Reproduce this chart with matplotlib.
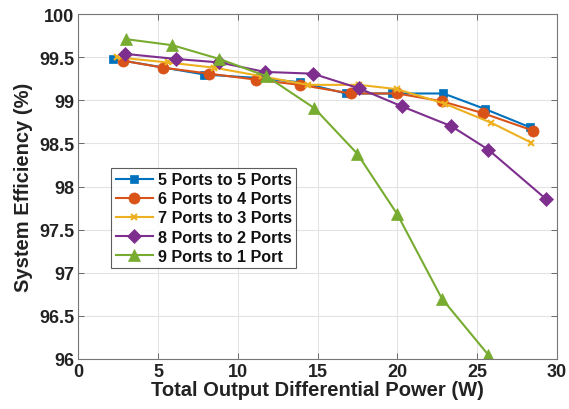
import matplotlib
matplotlib.use("Agg")
import matplotlib.pyplot as plt

# ---- data -------------------------------------------------------------------
labels = ["5 Ports to 5 Ports", "6 Ports to 4 Ports", "7 Ports to 3 Ports",
          "8 Ports to 2 Ports", "9 Ports to 1 Port"]

x_55 = [2.2, 7.9, 11.2, 13.9, 16.8, 19.7, 22.9, 25.5, 28.3]
y_55 = [99.48, 99.30, 99.26, 99.21, 99.08, 99.08, 99.08, 98.90, 98.69]

x_64 = [2.8, 5.3, 8.2, 11.15, 13.9, 17.1, 20.0, 22.8, 25.4, 28.5]
y_64 = [99.46, 99.38, 99.31, 99.24, 99.18, 99.08, 99.08, 98.99, 98.85, 98.65]

x_73 = [2.4, 5.6, 8.5, 11.5, 14.4, 17.6, 20.0, 23.0, 25.9, 28.4]
y_73 = [99.50, 99.44, 99.38, 99.28, 99.18, 99.18, 99.13, 98.96, 98.74, 98.51]

x_82 = [2.9, 6.15, 8.85, 11.7, 14.7, 17.6, 20.3, 23.4, 25.7, 29.3]
y_82 = [99.54, 99.48, 99.44, 99.33, 99.31, 99.14, 98.93, 98.70, 98.43, 97.86]

x_91 = [3.0, 5.9, 8.85, 11.8, 14.8, 17.5, 20.0, 22.8, 25.7]
y_91 = [99.71, 99.64, 99.48, 99.28, 98.91, 98.38, 97.68, 96.70, 96.05]

xs = [x_55, x_64, x_73, x_82, x_91]
ys = [y_55, y_64, y_73, y_82, y_91]

# MATLAB default colour order
colors = ["#0072BD", "#D95319", "#EDB120", "#7E2F8E", "#77AC30"]
markers = ["s", "o", "x", "D", "^"]
msizes = [6, 8, 5, 7, 8]

plt.rcParams["font.family"] = ["Liberation Sans", "DejaVu Sans"]
plt.rcParams["font.weight"] = "bold"

fig = plt.figure(figsize=(5.69, 4.10), dpi=100)
ax = fig.add_axes([0.1376, 0.122, 0.8408, 0.841])

for x, y, c, m, ms, lab in zip(xs, ys, colors, markers, msizes, labels):
    ax.plot(x, y, color=c, marker=m, markersize=ms, lw=1.5,
            markeredgewidth=1.5 if m == "x" else 0.5, label=lab)

ax.set_xlim(0, 30)
ax.set_ylim(96, 100)
ax.set_xticks([0, 5, 10, 15, 20, 25, 30])
ax.set_yticks([96, 96.5, 97, 97.5, 98, 98.5, 99, 99.5, 100])
ax.set_yticklabels(["96", "96.5", "97", "97.5", "98", "98.5", "99", "99.5", "100"])
ax.grid(True, color="#e3e3e3", lw=0.8)
ax.set_axisbelow(True)
ax.tick_params(direction="in", top=True, right=True, length=4, width=0.6,
               color="#555555", labelsize=13, labelcolor="#222222", pad=3)
for s in ax.spines.values():
    s.set_color("#777777")
    s.set_linewidth(0.8)

ax.set_xlabel("Total Output Differential Power (W)", fontsize=14.5,
              fontweight="bold", color="#222222", labelpad=0)
ax.set_ylabel("System Efficiency (%)", fontsize=14.5, fontweight="bold",
              color="#222222", labelpad=4)

leg = ax.legend(loc="upper left", bbox_to_anchor=(0.068, 0.555), fontsize=11.6,
                frameon=True, fancybox=False, edgecolor="#333333",
                handlelength=2.3, handletextpad=0.3, borderpad=0.3,
                labelspacing=0.25, borderaxespad=0)
leg.get_frame().set_linewidth(0.8)
for t in leg.get_texts():
    t.set_color("#111111")

fig.savefig("out.png", dpi=100, facecolor="white")
